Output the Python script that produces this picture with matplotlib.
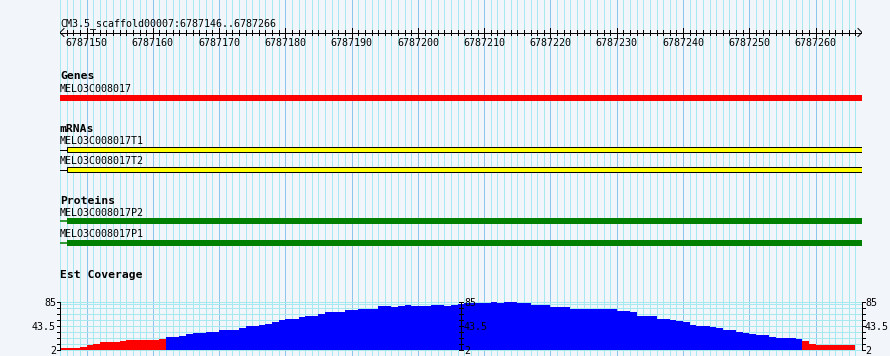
import matplotlib
matplotlib.use("Agg")
import matplotlib.pyplot as plt
from matplotlib.patches import Rectangle

# ---------------- data ----------------
ref_name = "CM3.5_scaffold00007"
view_start, view_end = 6787146, 6787266
ruler_labels = [6787150, 6787160, 6787170, 6787180, 6787190, 6787200,
                6787210, 6787220, 6787230, 6787240, 6787250, 6787260]

gene_names = ["MELO3C008017"]
gene_starts = [6787146]
gene_ends = [6787266]

mrna_names = ["MELO3C008017T1", "MELO3C008017T2"]
mrna_starts = [6787146, 6787146]
mrna_exon_starts = [6787147, 6787147]
mrna_ends = [6787266, 6787266]

protein_names = ["MELO3C008017P2", "MELO3C008017P1"]
protein_starts = [6787146, 6787146]
protein_cds_starts = [6787147, 6787147]
protein_ends = [6787266, 6787266]

track_titles = ["Genes", "mRNAs", "Proteins", "Est Coverage"]

coverage = [4, 4, 4, 7, 9.5, 11, 14.5, 14.5, 14.5, 16.5,
            19, 19, 19, 19, 19, 19.5, 23.5, 23.5, 26, 28.5,
            31.5, 31.5, 33, 33, 35, 35, 36.5, 38.5, 42.5, 42.5,
            44, 46, 50.5, 54, 55.5, 55.5, 58.5, 61, 61, 64,
            67.5, 67.5, 67.5, 71, 71, 73, 73, 73, 78, 78,
            75, 77, 78.5, 77, 77, 77, 80, 80, 78, 80,
            81, 83, 83, 83, 83, 85, 82.5, 84, 84, 82,
            82, 79, 79, 79, 76, 76, 76, 73, 73, 73,
            73, 73, 73, 73, 69.5, 69.5, 67, 61, 59.5, 59.5,
            55.5, 55.5, 52.5, 51, 49, 44.5, 42.5, 42.5, 40.5, 38.5,
            36.5, 36.5, 33, 31, 28.5, 27, 27, 24.5, 21.5, 21.5,
            21.5, 20.5, 17, 12, 10, 10, 10, 10, 10, 10,
            2]
cov_min, cov_max = 2, 85
cov_pivot = 20
cov_tick_labels = ["85", "43.5", "2"]

# ---------------- style ----------------
W, H = 890, 356
BG = "#f2f5fa"
GRID_MINOR = "#a6e9ef"
GRID_MAJOR = "#8cc6ec"
MONO = "DejaVu Sans Mono"
FS = 7.2
FSB = 8.2
PX_LW = 0.72

fig = plt.figure(figsize=(W / 100, H / 100), dpi=100, facecolor=BG)

left_px, right_px = 60, 862
ax = fig.add_axes([left_px / W, 0, (right_px - left_px) / W, 1])
ax.set_xlim(view_start, view_end + 1)
ax.set_ylim(H, 0)
ax.axis("off")
ax.patch.set_visible(False)
px = (view_end + 1 - view_start) / (right_px - left_px)  # bp per pixel

# vertical grid
for p in range(view_start, view_end + 2):
    ax.axvline(p, color=GRID_MAJOR if p % 10 == 0 else GRID_MINOR,
               lw=PX_LW, zorder=0, antialiased=False)

# header + ruler
ax.text(view_start, 26, f"{ref_name}:{view_start}..{view_end}",
        family=MONO, fontsize=FS, va="baseline", ha="left")
ry = 32.5
ax.plot([view_start, view_end + 1], [ry, ry], color="black", lw=PX_LW,
        zorder=3, antialiased=False)
for p in range(view_start + 1, view_end + 1):
    if p % 10 == 0:
        ax.plot([p, p], [28, 37], color="black", lw=PX_LW, zorder=3,
                antialiased=False)
    else:
        ax.plot([p, p], [30, 35], color="black", lw=PX_LW, zorder=3,
                antialiased=False)
for x0, d in [(view_start, 1), (view_end + 1, -1)]:
    ax.plot([x0 + d * 4 * px, x0, x0 + d * 4 * px], [ry - 4, ry, ry + 4],
            color="black", lw=PX_LW, zorder=3)
for lab in ruler_labels:
    ax.text(lab, 46.5, str(lab), family=MONO, fontsize=FS,
            ha="center", va="baseline")

# Genes
ax.text(view_start, 79, track_titles[0], family=MONO, fontsize=FSB,
        fontweight="bold", va="baseline")
for name, s, e in zip(gene_names, gene_starts, gene_ends):
    ax.text(view_start, 92.5, name, family=MONO, fontsize=FS, va="baseline")
    ax.add_patch(Rectangle((s, 95), e + 1 - s, 6, facecolor="#ff0000",
                           edgecolor="none", zorder=3))

# mRNAs
ax.text(view_start, 131.5, track_titles[1], family=MONO, fontsize=FSB,
        fontweight="bold", va="baseline")
for i, (name, s, es, e) in enumerate(zip(mrna_names, mrna_starts,
                                         mrna_exon_starts, mrna_ends)):
    base = 144 + 20 * i
    ax.text(view_start, base, name, family=MONO, fontsize=FS, va="baseline")
    yc = base + 5.5
    ax.plot([s, es], [yc, yc], color="black", lw=PX_LW, zorder=3)
    ax.add_patch(Rectangle((es, yc - 2.2), e + 1 - es, 4.4, facecolor="#ffff00",
                           edgecolor="black", lw=PX_LW, zorder=3))

# Proteins
ax.text(view_start, 204, track_titles[2], family=MONO, fontsize=FSB,
        fontweight="bold", va="baseline")
for i, (name, s, cs, e) in enumerate(zip(protein_names, protein_starts,
                                         protein_cds_starts, protein_ends)):
    base = 216 + 21.3 * i
    ax.text(view_start, base, name, family=MONO, fontsize=FS, va="baseline")
    yc = base + 5.3
    ax.plot([s, cs], [yc, yc], color="#008000", lw=1.1, zorder=3)
    ax.add_patch(Rectangle((cs, yc - 3), e + 1 - cs, 6, facecolor="#008000",
                           edgecolor="none", zorder=3))

# Est Coverage
ax.text(view_start, 278.3, track_titles[3], family=MONO, fontsize=FSB,
        fontweight="bold", va="baseline")

top_px, bot_px = 301.7, 349.5
cax = fig.add_axes([left_px / W, (H - bot_px) / H, (right_px - left_px) / W,
                    (bot_px - top_px) / H])
cax.set_xlim(view_start, view_end + 1)
cax.set_ylim(cov_min, cov_max)
cax.axis("off")
cax.patch.set_visible(False)

ticks = [cov_min + k * (cov_max - cov_min) / 8 for k in range(9)]
for t in ticks + [cov_min + 7.6 * (cov_max - cov_min) / 8]:
    cax.axhline(t, color=GRID_MINOR, lw=PX_LW, zorder=0, clip_on=False,
                antialiased=False)

positions = list(range(view_start, view_end + 1))
colors = ["#ff0000" if v < cov_pivot else "#0000ff" for v in coverage]
cax.bar(positions, [v - cov_min for v in coverage], bottom=cov_min, width=1,
        align="edge", color=colors, linewidth=0, zorder=2)

mid = view_start + (view_end + 1 - view_start) / 2
axes_x = [(view_start, -3, 0, "right", -4), (mid, -2, 2, "left", 3),
          (view_end + 1, 0, 3, "left", 3)]
for xa, t0, t1, ha, off in axes_x:
    cax.plot([xa, xa], [cov_min, cov_max], color="black", lw=PX_LW,
             zorder=4, clip_on=False, antialiased=False)
    for t in ticks:
        cax.plot([xa + t0 * px, xa + t1 * px], [t, t], color="black",
                 lw=PX_LW, zorder=4, clip_on=False, antialiased=False)
    for lab in cov_tick_labels:
        v = float(lab)
        cax.text(xa + off * px, v, lab, family=MONO, fontsize=FS, ha=ha,
                 va="center_baseline", zorder=5, clip_on=False)

fig.savefig("out.png", dpi=100, facecolor=BG)
